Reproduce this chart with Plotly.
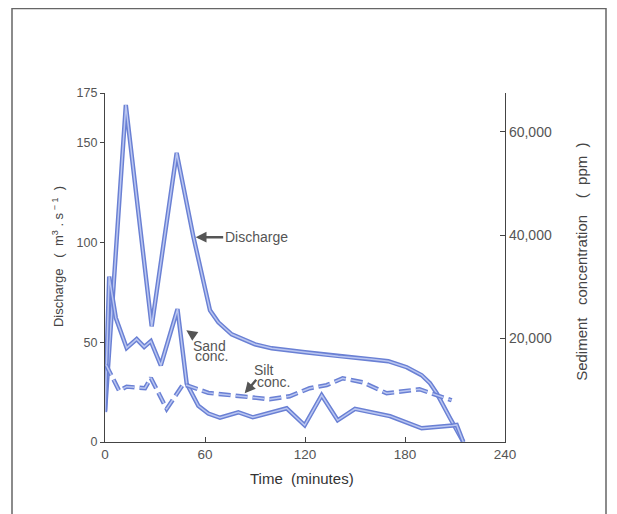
import plotly.graph_objects as go

# ---- data ----
discharge_t = [0, 12.5, 28, 43, 53, 60, 63, 68, 76, 90, 100, 120, 140, 160, 170, 181, 190, 195, 199, 207, 215]
discharge_q = [15, 169, 58, 145, 103, 76, 66, 60, 54, 49, 47, 45, 43, 41.5, 40.5, 37.5, 33.5, 29.5, 24.5, 12, 0]

sand_t = [0, 2.5, 6.5, 13, 19, 23.5, 27.5, 33.5, 43.5, 49, 56, 62, 69, 80, 88.6, 109, 119.8, 130, 139.6, 150, 171, 190, 208.6, 211, 215]
sand_c = [6000, 32000, 24000, 18200, 19900, 18400, 19500, 14800, 25700, 11300, 7000, 5500, 4700, 5750, 4780, 6520, 3230, 9040, 4200, 6400, 5000, 2650, 3200, 3300, 0]

silt_t = [0.5, 8.5, 13, 24, 27.5, 37, 47, 54, 62, 80, 98.8, 110.8, 122.8, 133, 142.6, 154.6, 169, 188.7, 199, 208]
silt_c = [15000, 9900, 10700, 10400, 12400, 6400, 11200, 10400, 9500, 8900, 8270, 8850, 10400, 11000, 12330, 11550, 9420, 10200, 9040, 8070]

x_ticks = [0, 60, 120, 180, 240]
y_ticks = [0, 50, 100, 150, 175]
y2_ticks = [20000, 40000, 60000]
y2_labels = ["20,000", "40,000", "60,000"]

OUTER = "#6a80d4"
INNER = "#bac6f1"
FONT = "Liberation Sans, Arial, sans-serif"
TXT = "#555555"

fig = go.Figure()

def double_line(x, y, yaxis, dash=None):
    fig.add_trace(go.Scatter(x=x, y=y, yaxis=yaxis, mode="lines",
                             line=dict(color=OUTER, width=4.4, dash=dash),
                             hoverinfo="skip", showlegend=False))
    fig.add_trace(go.Scatter(x=x, y=y, yaxis=yaxis, mode="lines",
                             line=dict(color=INNER, width=1.5, dash=dash),
                             hoverinfo="skip", showlegend=False))

double_line(discharge_t, discharge_q, "y")
double_line(sand_t, sand_c, "y2")
double_line(silt_t, silt_c, "y2", dash="12px,5px")

axis_common = dict(showgrid=False, zeroline=False, showline=True,
                   linecolor="#444444", linewidth=1.2, tickcolor="#444444")

fig.update_layout(
    width=609, height=506,
    margin=dict(l=97, r=112, t=85, b=72, autoexpand=False),
    paper_bgcolor="white", plot_bgcolor="white",
    xaxis=dict(range=[0, 240], tickvals=x_ticks, ticks="inside", ticklen=5,
               tickfont=dict(family=FONT, size=13.5, color=TXT), **axis_common),
    yaxis=dict(range=[0, 175], tickvals=y_ticks, ticks="outside", ticklen=4,
               tickfont=dict(family=FONT, size=12.5, color=TXT), **axis_common),
    yaxis2=dict(range=[0, 67500], overlaying="y", side="right",
                tickvals=y2_ticks, ticktext=y2_labels, ticks="inside", ticklen=5,
                tickfont=dict(family=FONT, size=14, color=TXT), **axis_common),
    showlegend=False,
)

# frame around the figure
fig.add_shape(type="rect", xref="paper", yref="paper",
              x0=-0.2325, x1=1.2525, y0=-0.35, y1=1.242,
              line=dict(color="#666666", width=1.5), layer="below")

ann = []
# axis titles
ann.append(dict(xref="paper", yref="paper", x=-0.1425, y=0.53, textangle=-90,
                text="Discharge   (  m<sup>3</sup> . s<sup> \u2212 1</sup>  )", showarrow=False,
                font=dict(family=FONT, size=13, color="#444444")))
ann.append(dict(xref="paper", yref="paper", x=1.217, y=0.517, textangle=-90,
                text="Sediment   concentration    (  ppm  )", showarrow=False,
                font=dict(family=FONT, size=15, color="#444444")))
ann.append(dict(xref="paper", yref="paper", x=0.4925, y=-0.135,
                text="Time  (minutes)", showarrow=False,
                font=dict(family=FONT, size=15, color="#333333")))

# labels with arrows
lab_font = dict(family=FONT, size=14, color=TXT)
arrow_style = dict(showarrow=True, arrowhead=2, arrowsize=0.9, arrowwidth=2.4,
                   arrowcolor="#555555", xref="x", yref="y")
ann.append(dict(x=54.4, y=102.7, ax=60.5, ay=0, text="Discharge",
                font=lab_font, **arrow_style))
ann.append(dict(x=48.8, y=56.0, ax=22.7, ay=15.3, text="Sand",
                font=lab_font, **arrow_style))
ann.append(dict(x=52.6, y=43.0, xref="x", yref="y", text="conc.", xanchor="left",
                showarrow=False, font=lab_font))
ann.append(dict(x=83.8, y=24.4, ax=19.7, ay=-23, text="Silt",
                font=lab_font, **arrow_style))
ann.append(dict(x=89.8, y=30.1, xref="x", yref="y", text="conc.", xanchor="left",
                showarrow=False, font=lab_font))

fig.update_layout(annotations=ann)

fig.write_html("out.html")
